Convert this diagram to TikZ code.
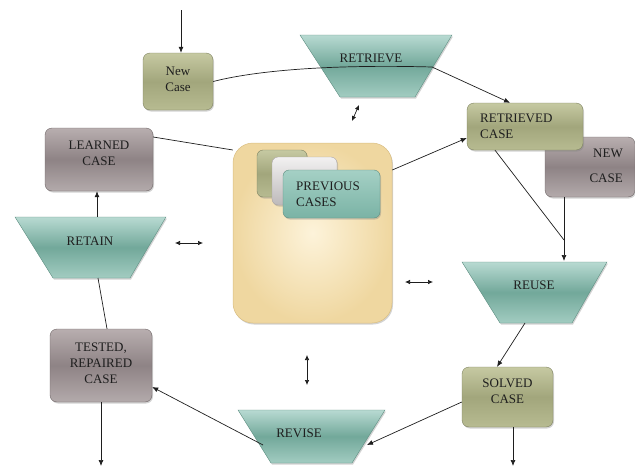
\documentclass[tikz,border=0pt]{standalone}
\usepackage{fontspec}
\setmainfont{Liberation Serif}
\usetikzlibrary{arrows.meta,shadows}
\definecolor{olA}{HTML}{C6C9A2}
\definecolor{olB}{HTML}{A2A67C}
\definecolor{olC}{HTML}{B7BB91}
\definecolor{olD}{HTML}{7E8260}
\definecolor{grA}{HTML}{B8AEAF}
\definecolor{grB}{HTML}{8E8385}
\definecolor{grC}{HTML}{B3AAAB}
\definecolor{grD}{HTML}{6F6667}
\definecolor{tlA}{HTML}{B8DAD2}
\definecolor{tlB}{HTML}{72A89A}
\definecolor{tlC}{HTML}{A2CCC1}
\definecolor{tlD}{HTML}{5E8F82}
\definecolor{tnA}{HTML}{FDF3DA}
\definecolor{tnB}{HTML}{EFD7A0}
\definecolor{tnD}{HTML}{D9BE82}
\definecolor{cdA}{HTML}{F2F1F1}
\definecolor{cdB}{HTML}{BDB9BA}
\definecolor{tcA}{HTML}{A5D0C5}
\definecolor{tcB}{HTML}{7AB3A5}
\definecolor{ink}{HTML}{1E1E1E}
\tikzset{
  shad/.style={drop shadow={opacity=0.35,shadow xshift=1pt,shadow yshift=-1.5pt}},
  olivebox/.style={rectangle,rounded corners=7pt,draw=olD,line width=0.4pt,top color=olA,bottom color=olC,middle color=olB,shad,inner sep=0pt},
  graybox/.style={rectangle,rounded corners=7pt,draw=grD,line width=0.4pt,top color=grA,bottom color=grC,middle color=grB,shad,inner sep=0pt},
  trapfill/.style={draw=tlD,line width=0.4pt,top color=tlA,bottom color=tlC,middle color=tlB,shad},
  txt/.style={font=\fontsize{13}{16}\selectfont,text=ink,inner sep=0pt,align=center},
  conn/.style={draw=ink,line width=0.7pt},
  arr/.style={conn,-{Latex[length=6pt,width=5pt]}},
  darr/.style={conn,{Latex[length=5pt,width=4.5pt]}-{Latex[length=5pt,width=4.5pt]}},
}
\begin{document}
\begin{tikzpicture}[x=1pt,y=-1pt]
\useasboundingbox (0,0) rectangle (635,466);
% central store
\node[rectangle,rounded corners=20pt,draw=tnD,line width=0.5pt,inner color=tnA,outer color=tnB,shad,minimum width=159pt,minimum height=180pt] (store) at (312.5,233) {};
\node[olivebox,rounded corners=6pt,minimum width=50pt,minimum height=47pt] (card1) at (282,173.5) {};
\node[rectangle,rounded corners=6pt,draw=grD!60,line width=0.4pt,top color=cdA,bottom color=cdB,shad,minimum width=65pt,minimum height=48pt] (card2) at (304.5,181) {};
\node[rectangle,rounded corners=6pt,draw=tlD,line width=0.4pt,top color=tcA,bottom color=tcB,shad,minimum width=97pt,minimum height=48pt] (card3) at (331.5,194) {};
\node[txt,align=left,anchor=west] (prevT) at (296,194.5) {PREVIOUS\\CASES};
% trapezoids
\path[trapfill] (300,35) -- (452,35) -- (415,97) -- (340,97) -- cycle;
\path[trapfill] (462,262) -- (607,262) -- (572,323) -- (500,323) -- cycle;
\path[trapfill] (238,410) -- (385,410) -- (352,463) -- (271,463) -- cycle;
\path[trapfill] (15,217) -- (166,217) -- (130,278) -- (53,278) -- cycle;
\coordinate (retrR) at (432,67);
\coordinate (reuseT) at (564,261);
\coordinate (reuseB) at (525,323);
\coordinate (reviseL) at (263,445);
\coordinate (reviseR) at (367,445);
\coordinate (retainT) at (97,217);
\coordinate (retainB) at (98,278);
% boxes
\node[olivebox,minimum width=70pt,minimum height=57pt] (newcase) at (178,81.5) {};
\node[txt] (newcaseT) at (178,79) {New\\Case};
\node[graybox,minimum width=90pt,minimum height=60pt] (newcase2) at (590,167) {};
\node[txt,align=right,anchor=east] (newcase2T) at (623,165.5) {NEW\\[9pt]CASE};
\node[olivebox,minimum width=116pt,minimum height=47pt] (retrieved) at (525,126.5) {};
\node[txt,align=left,anchor=west] (retrievedT) at (480,126) {RETRIEVED\\CASE};
\node[graybox,minimum width=108pt,minimum height=63pt] (learned) at (99,159.5) {};
\node[txt] (learnedT) at (99,153) {LEARNED\\CASE};
\node[graybox,minimum width=102pt,minimum height=73pt] (tested) at (101,365.5) {};
\node[txt] (testedT) at (101,363) {TESTED,\\REPAIRED\\CASE};
\node[olivebox,minimum width=91pt,minimum height=60pt] (solved) at (507.5,397) {};
\node[txt] (solvedT) at (507.5,391) {SOLVED\\CASE};
% connectors
\coordinate (inTop) at (181,10);
\coordinate (join) at (564,240);
\coordinate (solvedOut) at (513,466);
\coordinate (testedOut) at (101,466);
\draw[arr] (inTop) -- (newcase.north -| inTop);
\draw[conn] (newcase.east) .. controls (250,72) and (320,64) .. (retrR);
\draw[arr] (retrR) -- (retrieved.north -| 510,0);
\draw[arr] (store.east |- 0,170) -- (retrieved.west |- 0,138);
\draw[conn] (retrieved.south -| 495,0) -- (join);
\draw[arr] (newcase2.south -| reuseT) -- (reuseT);
\draw[arr] (reuseB) -- (solved.north -| 497,0);
\draw[arr] (solved.south -| solvedOut) -- (solvedOut);
\draw[arr] (solved.west |- 0,402) -- (reviseR);
\draw[arr] (reviseL) -- (tested.east |- 0,387);
\draw[arr] (tested.south) -- (testedOut);
\draw[conn] (tested.north -| 107,0) -- (retainB);
\draw[arr] (retainT) -- (learned.south -| retainT);
\draw[conn] (learned.east |- 0,137) -- (store.north west |- 0,150);
% trapezoid labels
\node[txt] (retrieveT) at (371,58) {RETRIEVE};
\node[txt] (reuseTx) at (534,285) {REUSE};
\node[txt] (reviseTx) at (299,433) {REVISE};
\node[txt] (retainTx) at (90,241) {RETAIN};
% double arrows
\coordinate (d1a) at (359,105); \coordinate (d1b) at (352,121);
\coordinate (d2a) at (175,243); \coordinate (d2b) at (203,243);
\coordinate (d3a) at (405,282); \coordinate (d3b) at (433,282);
\coordinate (d4a) at (307,355); \coordinate (d4b) at (307,385);
\draw[darr] (d1a) -- (d1b);
\draw[darr] (d2a) -- (d2b);
\draw[darr] (d3a) -- (d3b);
\draw[darr] (d4a) -- (d4b);
\end{tikzpicture}
\end{document}
